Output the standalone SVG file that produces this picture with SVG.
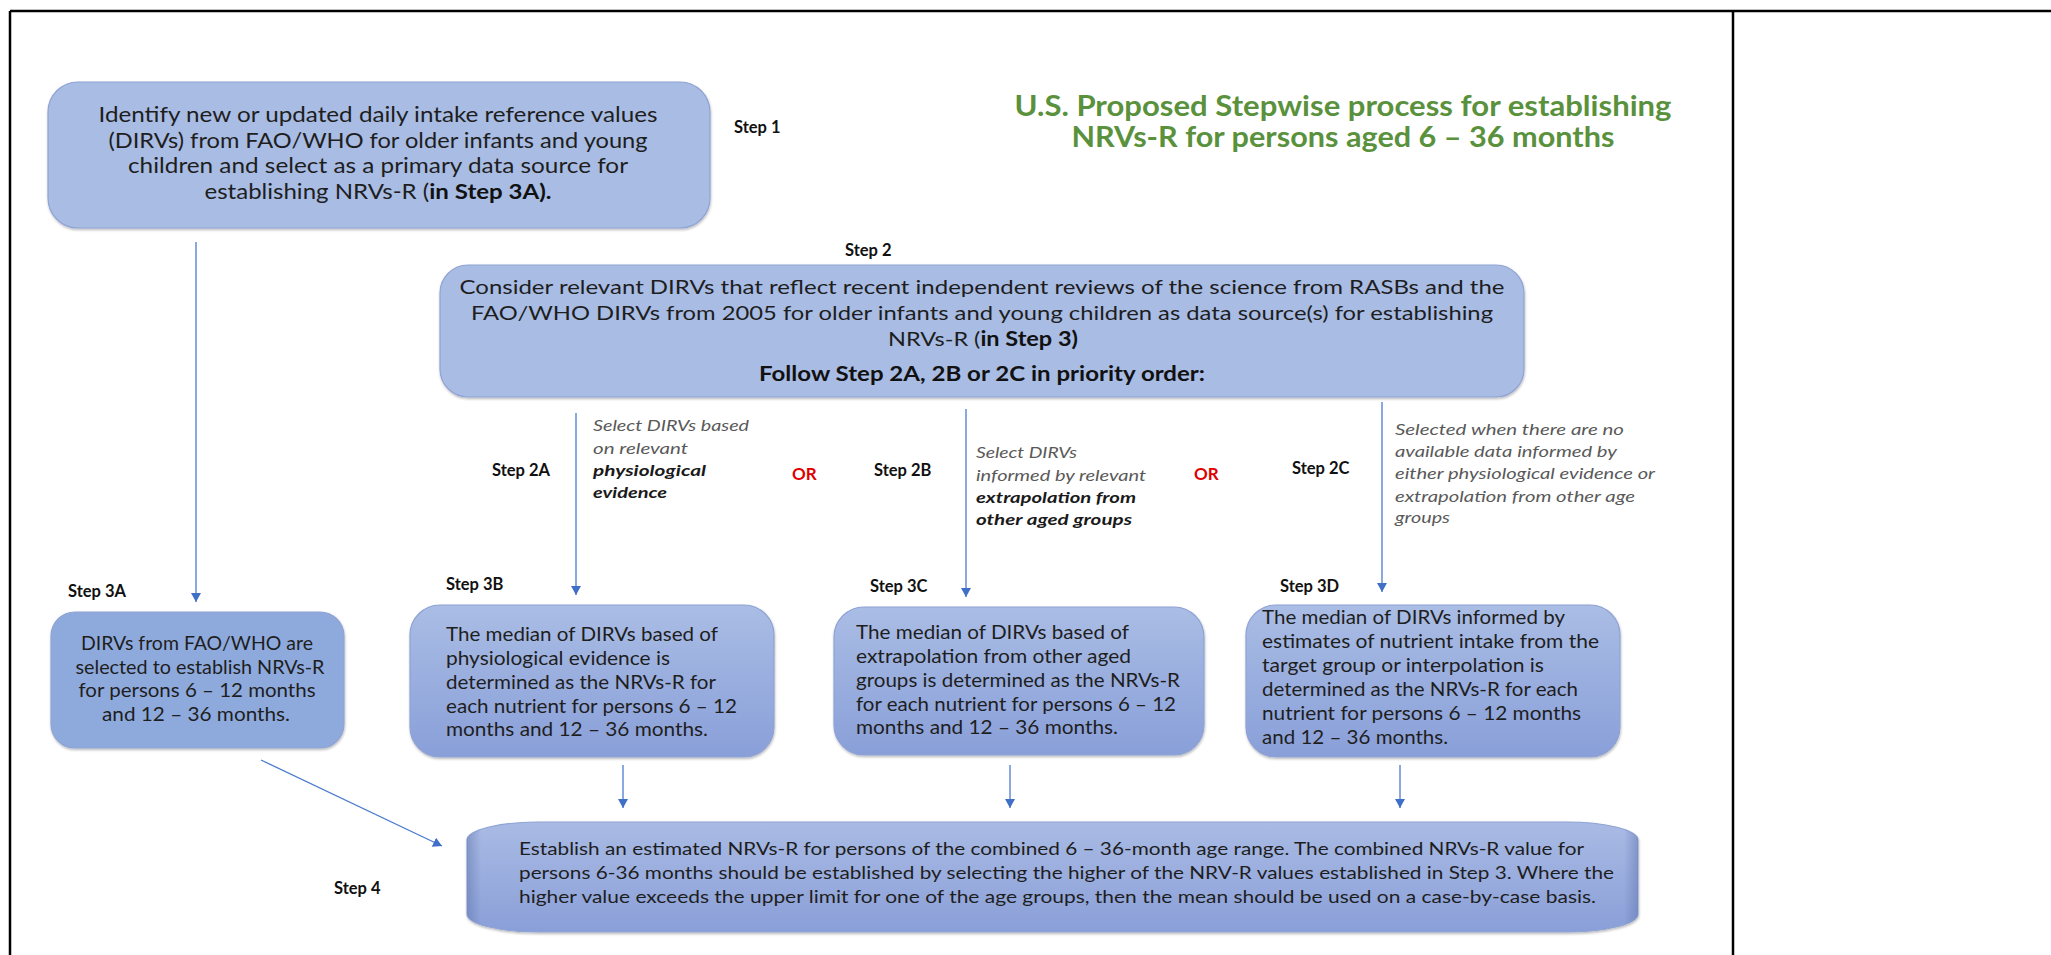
<svg xmlns="http://www.w3.org/2000/svg" width="2051" height="955" viewBox="0 0 2051 955">
<style>
.t{font-family:Lato,"Liberation Sans",sans-serif;fill:#1e1e1e}
.b1{font-size:21px}
.b2{font-size:20px}
.b3{font-size:19px}
.b4{font-size:18px}
.ann{font-family:Lato,"Liberation Sans",sans-serif;font-size:15px;font-style:italic;fill:#595959}
.annb{font-weight:bold;fill:#1a1a1a}
.step{font-family:Lato,"Liberation Sans",sans-serif;font-size:16.5px;font-weight:bold;fill:#111}
.or{font-family:Lato,"Liberation Sans",sans-serif;font-size:17px;font-weight:bold;fill:#e00000}
.title{font-family:Lato,"Liberation Sans",sans-serif;font-size:28px;font-weight:bold;fill:#5a913c}
.bold{font-weight:bold;fill:#111}
.conn{stroke:#4a7bd0;stroke-width:1.3;fill:none;marker-end:url(#ah)}
.frame{stroke:#000;stroke-width:2.5;fill:none}
.box{stroke:#8fa3d4;stroke-width:1.2;filter:url(#sh)}
</style>
<defs>
<marker id="ah" markerUnits="userSpaceOnUse" markerWidth="10" markerHeight="11" refX="9" refY="5" orient="auto">
<path d="M0,0 L9,5 L0,10 z" fill="#3f6fc6"/>
</marker>
<linearGradient id="gb" x1="0" y1="0" x2="0" y2="1">
<stop offset="0" stop-color="#aabde5"/>
<stop offset="1" stop-color="#899fd8"/>
</linearGradient>
<linearGradient id="g4" x1="0" y1="0" x2="0" y2="1">
<stop offset="0" stop-color="#a9bbe4"/>
<stop offset="1" stop-color="#8a9fd8"/>
</linearGradient>
<linearGradient id="g4e" x1="0" y1="0" x2="1" y2="0">
<stop offset="0" stop-color="#5a6fa8" stop-opacity="0.45"/>
<stop offset="0.012" stop-color="#5a6fa8" stop-opacity="0"/>
<stop offset="0.988" stop-color="#5a6fa8" stop-opacity="0"/>
<stop offset="1" stop-color="#5a6fa8" stop-opacity="0.45"/>
</linearGradient>
<filter id="sh" x="-5%" y="-10%" width="110%" height="125%">
<feDropShadow dx="0.5" dy="1.5" stdDeviation="1.3" flood-color="#000" flood-opacity="0.28"/>
</filter>
</defs>

<g id="frame">
<line class="frame" x1="10" y1="11" x2="2051" y2="11"/>
<line class="frame" x1="10" y1="11" x2="10" y2="955"/>
<line class="frame" x1="1733" y1="11" x2="1733" y2="955"/>
</g>

<g id="title">
<text class="title" x="1343" y="116" text-anchor="middle" textLength="657" lengthAdjust="spacingAndGlyphs">U.S. Proposed Stepwise process for establishing</text>
<text class="title" x="1343" y="147" text-anchor="middle" textLength="543" lengthAdjust="spacingAndGlyphs">NRVs-R for persons aged 6 – 36 months</text>
</g>

<g id="connectors">
<line class="conn" x1="196" y1="242" x2="196" y2="602"/>
<line class="conn" x1="576" y1="413" x2="576" y2="595"/>
<line class="conn" x1="966" y1="409" x2="966" y2="597"/>
<line class="conn" x1="1382" y1="402" x2="1382" y2="592"/>
<line class="conn" x1="261" y1="760" x2="442" y2="846"/>
<line class="conn" x1="623" y1="765" x2="623" y2="808"/>
<line class="conn" x1="1010" y1="765" x2="1010" y2="808"/>
<line class="conn" x1="1400" y1="765" x2="1400" y2="808"/>
</g>

<g id="step1">
<rect class="box" x="48" y="82" width="662" height="146" rx="30" fill="#a8bce4"/>
<text class="t b1" x="378" y="122" text-anchor="middle" textLength="559" lengthAdjust="spacingAndGlyphs">Identify new or updated daily intake reference values</text>
<text class="t b1" x="378" y="148" text-anchor="middle" textLength="539" lengthAdjust="spacingAndGlyphs">(DIRVs) from FAO/WHO for older infants and young</text>
<text class="t b1" x="378" y="173" text-anchor="middle" textLength="500" lengthAdjust="spacingAndGlyphs">children and select as a primary data source for</text>
<text class="t b1" x="378" y="199" text-anchor="middle" textLength="347" lengthAdjust="spacingAndGlyphs">establishing NRVs-R (<tspan class="bold">in Step 3A).</tspan></text>
<text class="step" x="734" y="133">Step 1</text>
</g>

<g id="step2">
<text class="step" x="845" y="256">Step 2</text>
<rect class="box" x="440" y="265" width="1084" height="132" rx="28" fill="#a8bce4"/>
<text class="t b2" x="982" y="294" text-anchor="middle" textLength="1045" lengthAdjust="spacingAndGlyphs">Consider relevant DIRVs that reflect recent independent  reviews of the science from RASBs and the</text>
<text class="t b2" x="982" y="320" text-anchor="middle" textLength="1022" lengthAdjust="spacingAndGlyphs">FAO/WHO DIRVs from 2005 for older infants and young children as data source(s) for establishing</text>
<text class="t b2" x="983" y="346" text-anchor="middle" textLength="190" lengthAdjust="spacingAndGlyphs">NRVs-R (<tspan class="bold">in Step 3)</tspan></text>
<text class="t b2 bold" x="982" y="381" text-anchor="middle" textLength="446" lengthAdjust="spacingAndGlyphs">Follow Step 2A, 2B or 2C in priority order:</text>
</g>

<g id="step2A">
<text class="step" x="492" y="476">Step 2A</text>
<text class="ann" x="593" y="431" textLength="156" lengthAdjust="spacingAndGlyphs">Select DIRVs based</text>
<text class="ann" x="593" y="454" textLength="95" lengthAdjust="spacingAndGlyphs">on relevant</text>
<text class="ann annb" x="593" y="476" textLength="113" lengthAdjust="spacingAndGlyphs">physiological</text>
<text class="ann annb" x="593" y="498" textLength="74" lengthAdjust="spacingAndGlyphs">evidence</text>
<text class="or" x="792" y="480">OR</text>
</g>

<g id="step2B">
<text class="step" x="874" y="476">Step 2B</text>
<text class="ann" x="976" y="458" textLength="101" lengthAdjust="spacingAndGlyphs">Select DIRVs</text>
<text class="ann" x="976" y="481" textLength="170" lengthAdjust="spacingAndGlyphs">informed by relevant</text>
<text class="ann annb" x="976" y="503" textLength="160" lengthAdjust="spacingAndGlyphs">extrapolation from</text>
<text class="ann annb" x="976" y="525" textLength="156" lengthAdjust="spacingAndGlyphs">other aged groups</text>
<text class="or" x="1194" y="480">OR</text>
</g>

<g id="step2C">
<text class="step" x="1292" y="474">Step 2C</text>
<text class="ann" x="1395" y="435" textLength="229" lengthAdjust="spacingAndGlyphs">Selected  when there are no</text>
<text class="ann" x="1395" y="457" textLength="222" lengthAdjust="spacingAndGlyphs">available data informed by</text>
<text class="ann" x="1395" y="479" textLength="260" lengthAdjust="spacingAndGlyphs">either physiological  evidence or</text>
<text class="ann" x="1395" y="502" textLength="240" lengthAdjust="spacingAndGlyphs">extrapolation  from other age</text>
<text class="ann" x="1395" y="523" textLength="55" lengthAdjust="spacingAndGlyphs">groups</text>
</g>

<g id="step3A">
<text class="step" x="68" y="597">Step 3A</text>
<rect class="box" x="51" y="612" width="293" height="136" rx="24" fill="#8eaadd"/>
<text class="t b3" x="197" y="650" text-anchor="middle" textLength="232" lengthAdjust="spacingAndGlyphs">DIRVs from FAO/WHO are</text>
<text class="t b3" x="200" y="674" text-anchor="middle" textLength="249" lengthAdjust="spacingAndGlyphs">selected to establish NRVs-R</text>
<text class="t b3" x="197" y="697" text-anchor="middle" textLength="237" lengthAdjust="spacingAndGlyphs">for persons 6 – 12 months</text>
<text class="t b3" x="196" y="721" text-anchor="middle" textLength="188" lengthAdjust="spacingAndGlyphs">and 12 – 36 months.</text>
</g>

<g id="step3B">
<text class="step" x="446" y="590">Step 3B</text>
<rect class="box" x="410" y="605" width="364" height="152" rx="30" fill="url(#gb)"/>
<text class="t b3" x="446" y="641" textLength="272" lengthAdjust="spacingAndGlyphs">The median of DIRVs based of</text>
<text class="t b3" x="446" y="665" textLength="224" lengthAdjust="spacingAndGlyphs">physiological evidence is</text>
<text class="t b3" x="446" y="689" textLength="270" lengthAdjust="spacingAndGlyphs">determined as the NRVs-R for</text>
<text class="t b3" x="446" y="713" textLength="291" lengthAdjust="spacingAndGlyphs">each nutrient for persons 6 – 12</text>
<text class="t b3" x="446" y="736" textLength="262" lengthAdjust="spacingAndGlyphs">months and 12 – 36 months.</text>
</g>

<g id="step3C">
<text class="step" x="870" y="592">Step 3C</text>
<rect class="box" x="834" y="607" width="370" height="148" rx="30" fill="url(#gb)"/>
<text class="t b3" x="856" y="639" textLength="273" lengthAdjust="spacingAndGlyphs">The median of DIRVs  based of</text>
<text class="t b3" x="856" y="663" textLength="275" lengthAdjust="spacingAndGlyphs">extrapolation from other aged</text>
<text class="t b3" x="856" y="687" textLength="324" lengthAdjust="spacingAndGlyphs">groups is determined as the NRVs-R</text>
<text class="t b3" x="856" y="711" textLength="320" lengthAdjust="spacingAndGlyphs">for each nutrient for persons 6 – 12</text>
<text class="t b3" x="856" y="734" textLength="262" lengthAdjust="spacingAndGlyphs">months and 12 – 36 months.</text>
</g>

<g id="step3D">
<text class="step" x="1280" y="592">Step 3D</text>
<rect class="box" x="1246" y="605" width="374" height="152" rx="30" fill="url(#gb)"/>
<text class="t b3" x="1262" y="624" textLength="303" lengthAdjust="spacingAndGlyphs">The median of DIRVs informed by</text>
<text class="t b3" x="1262" y="648" textLength="337" lengthAdjust="spacingAndGlyphs">estimates of nutrient intake from the</text>
<text class="t b3" x="1262" y="672" textLength="282" lengthAdjust="spacingAndGlyphs">target group or interpolation is</text>
<text class="t b3" x="1262" y="696" textLength="316" lengthAdjust="spacingAndGlyphs">determined as the NRVs-R for each</text>
<text class="t b3" x="1262" y="720" textLength="319" lengthAdjust="spacingAndGlyphs">nutrient for persons 6 – 12 months</text>
<text class="t b3" x="1262" y="744" textLength="186" lengthAdjust="spacingAndGlyphs">and 12 – 36 months.</text>
</g>

<g id="step4">
<text class="step" x="334" y="894">Step 4</text>
<rect class="box" x="467" y="822" width="1171" height="110" rx="72" ry="18" fill="url(#g4)"/>
<rect x="467" y="822" width="1171" height="110" rx="72" ry="18" fill="url(#g4e)"/>
<text class="t b4" x="519" y="855" textLength="1065" lengthAdjust="spacingAndGlyphs">Establish an estimated NRVs-R for persons of the combined 6 – 36-month age range. The combined NRVs-R value for</text>
<text class="t b4" x="519" y="879" textLength="1095" lengthAdjust="spacingAndGlyphs">persons 6-36 months should be established by selecting the higher of the NRV-R values established in Step 3. Where the</text>
<text class="t b4" x="519" y="903" textLength="1077" lengthAdjust="spacingAndGlyphs">higher value exceeds the upper limit for one of the age groups, then the mean should be used on a case-by-case basis.</text>
</g>
</svg>
